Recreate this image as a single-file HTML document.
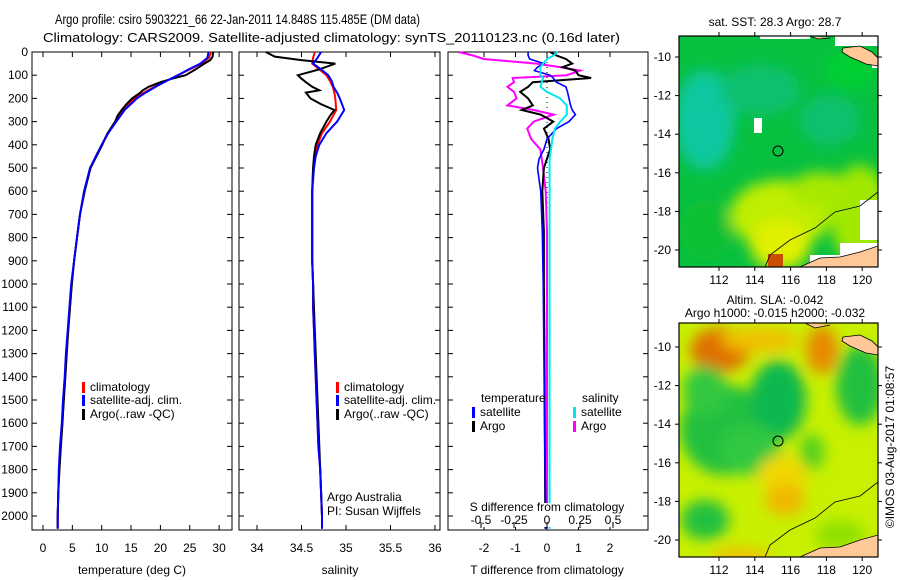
<!DOCTYPE html>
<html><head><meta charset="utf-8">
<style>
html,body{margin:0;padding:0;background:#fff;}
svg{display:block;font-family:"Liberation Sans",sans-serif;}
text{font-size:12px;fill:#000;}
</style></head>
<body>
<svg id="fig" width="900" height="580" viewBox="0 0 900 580">
<defs>
<filter id="blur6" x="-50%" y="-50%" width="200%" height="200%"><feGaussianBlur stdDeviation="7"/></filter>
<clipPath id="clipM1"><rect x="679" y="36" width="199" height="231"/></clipPath>
<clipPath id="clipM2"><rect x="679" y="323" width="199" height="234"/></clipPath>
</defs>
<text x="55" y="24" textLength="365" lengthAdjust="spacingAndGlyphs" style="font-size:14px">Argo profile: csiro 5903221_66 22-Jan-2011 14.848S 115.485E (DM data)</text>
<text x="43" y="42" textLength="577" lengthAdjust="spacingAndGlyphs" style="font-size:13px">Climatology: CARS2009. Satellite-adjusted climatology: synTS_20110123.nc (0.16d later)</text>

<g clip-path="url(#clipM1)">
<rect x="679" y="36" width="199" height="231" fill="#08c040"/>
<g filter="url(#blur6)">
<ellipse cx="705" cy="120" rx="30" ry="50" fill="#10c8a0"/>
<ellipse cx="760" cy="90" rx="40" ry="25" fill="#10c070"/>
<ellipse cx="830" cy="120" rx="30" ry="25" fill="#10c070"/>
<ellipse cx="850" cy="70" rx="25" ry="20" fill="#00d030"/>
<ellipse cx="860" cy="215" rx="30" ry="50" fill="#a0e800"/>
<ellipse cx="780" cy="215" rx="50" ry="35" fill="#c0ee00"/>
<ellipse cx="780" cy="245" rx="30" ry="25" fill="#e0f000"/>
<ellipse cx="820" cy="190" rx="30" ry="18" fill="#a8e800"/>
<ellipse cx="705" cy="230" rx="25" ry="30" fill="#10c030"/>
</g>
<rect x="754" y="118" width="8" height="15" fill="#fff"/>
<rect x="810" y="255" width="70" height="15" fill="#fff"/>
<rect x="840" y="243" width="40" height="12" fill="#fff"/>
<rect x="860" y="200" width="20" height="40" fill="#fff"/>
<rect x="835" y="36" width="45" height="10" fill="#fff"/>
<rect x="760" y="36" width="50" height="3" fill="#fff"/>
<rect x="768" y="254" width="15" height="15" fill="#c85000"/>
<rect x="872" y="58" width="6" height="10" fill="#fff"/>
<path d="M843,48 L860,46 L872,52 L878,58 L878,66 L866,64 L850,57 L842,52 Z" fill="#ffc896" stroke="#000" stroke-width="0.8"/>
<path d="M800,267 L820,258 L840,257 L860,252 L878,246 L878,267 Z" fill="#ffc896" stroke="#000" stroke-width="0.8"/>
<path d="M765,267 L770,255 L790,240 L815,228 L835,212 L860,206 L878,192" fill="none" stroke="#000" stroke-width="0.8"/>
<path d="M810,36 L818,39 L830,38" fill="#ffc896" stroke="#000" stroke-width="0.8"/>
</g>
<circle cx="778" cy="151" r="5" fill="none" stroke="#000"/>
<text x="775" y="26" text-anchor="middle">sat. SST: 28.3 Argo: 28.7</text>

<g clip-path="url(#clipM2)">
<rect x="679" y="323" width="199" height="234" fill="#c8f000"/>
<g filter="url(#blur6)">
<ellipse cx="720" cy="350" rx="30" ry="22" fill="#e07000"/>
<ellipse cx="822" cy="350" rx="16" ry="24" fill="#e88800"/>
<ellipse cx="760" cy="340" rx="40" ry="12" fill="#f0c000"/>
<ellipse cx="725" cy="430" rx="45" ry="45" fill="#20c040"/>
<ellipse cx="705" cy="390" rx="22" ry="25" fill="#30c840"/>
<ellipse cx="778" cy="400" rx="28" ry="40" fill="#10b850"/>
<ellipse cx="750" cy="450" rx="30" ry="25" fill="#30c840"/>
<ellipse cx="860" cy="385" rx="24" ry="40" fill="#20c040"/>
<ellipse cx="705" cy="520" rx="24" ry="20" fill="#20c040"/>
<ellipse cx="812" cy="452" rx="12" ry="18" fill="#50d020"/>
<ellipse cx="783" cy="475" rx="25" ry="20" fill="#f0d800"/>
<ellipse cx="785" cy="500" rx="20" ry="16" fill="#f0b800"/>
<ellipse cx="740" cy="558" rx="30" ry="10" fill="#f0c000"/>
<ellipse cx="840" cy="535" rx="25" ry="15" fill="#90e000"/>
</g>
<path d="M843,337 L860,335 L872,341 L878,347 L878,355 L866,353 L850,346 L842,341 Z" fill="#ffc896" stroke="#000" stroke-width="0.8"/>
<path d="M800,557 L820,548 L840,547 L860,540 L878,535 L878,557 Z" fill="#ffc896" stroke="#000" stroke-width="0.8"/>
<path d="M765,557 L770,545 L790,530 L815,518 L835,502 L860,496 L878,482" fill="none" stroke="#000" stroke-width="0.8"/>
<path d="M805,323 L815,328 L830,325" fill="#ffc896" stroke="#000" stroke-width="0.8"/>
</g>
<circle cx="778" cy="441" r="5" fill="none" stroke="#000"/>
<text x="775" y="304" text-anchor="middle">Altim. SLA: -0.042</text>
<text x="775" y="317" text-anchor="middle">Argo h1000: -0.015 h2000: -0.032</text>
<text transform="translate(894,447) rotate(-90)" text-anchor="middle">©IMOS 03-Aug-2017 01:08:57</text>
</svg>
<script>
const depthTicks = [0,100,200,300,400,500,600,700,800,900,1000,1100,1200,1300,1400,1500,1600,1700,1800,1900,2000];
const tempTicks = [0,5,10,15,20,25,30];
const salTicks = [34,34.5,35,35.5,36];
const tdiffTicks = [-2,-1,0,1,2];
const sdiffTicks = [-0.5,-0.25,0,0.25,0.5];
const sdiffTickLabels = ["-0.5","-0.25","0","0.25","0.5"];
const climDepth = [0,25,50,75,100,125,150,175,200,250,300,350,400,450,500,600,700,800,900,1000,1100,1200,1300,1400,1500,1600,1700,1800,1900,2000,2055];
const climTemp = [28.6,28.3,27,25,23,21,19,17.2,15.6,13.6,12.3,11,10,9,8.1,7,6.3,5.8,5.3,4.9,4.6,4.3,4.0,3.8,3.5,3.3,3.0,2.8,2.6,2.5,2.5];
const satTemp = [28.2,28,26.8,24.8,23,21,19.2,17.5,16,13.9,12.5,11.1,10,9,8,7,6.3,5.8,5.3,4.8,4.5,4.2,3.9,3.7,3.4,3.2,2.9,2.7,2.6,2.5,2.5];
const argoDepth = [0,20,35,50,75,100,115,130,150,165,175,200,225,250,275,300,350,400,450,500,600,700,800,900,1000,1200,1400,1600,1800,1900,2000,2050];
const argoTemp = [29,28.9,28.5,27.5,26,24.3,22,20,18,17,16.6,15.2,14.2,13.4,12.7,12.3,11,10.1,9.1,8.1,7.1,6.3,5.8,5.3,4.9,4.3,3.8,3.3,2.8,2.6,2.5,2.5];
const climSal = [34.65,34.63,34.62,34.7,34.78,34.82,34.85,34.87,34.88,34.89,34.82,34.73,34.68,34.65,34.63,34.62,34.62,34.62,34.62,34.63,34.63,34.64,34.65,34.66,34.67,34.68,34.69,34.71,34.72,34.73,34.73];
const satSal = [34.72,34.68,34.63,34.72,34.8,34.84,34.86,34.9,34.93,34.98,34.9,34.78,34.7,34.66,34.64,34.62,34.62,34.62,34.62,34.63,34.63,34.64,34.65,34.66,34.67,34.68,34.69,34.71,34.72,34.73,34.73];
const argoSal = [34.1,34.2,34.5,34.88,34.7,34.46,34.5,34.55,34.62,34.7,34.55,34.6,34.72,34.87,34.82,34.78,34.71,34.66,34.64,34.63,34.62,34.62,34.62,34.62,34.63,34.65,34.67,34.69,34.71,34.72,34.73,34.73];
const diffDepth = [0,15,30,50,65,80,100,112,130,150,172,200,230,250,270,300,330,375,420,460,500,600,775,1000,1300,1600,1900,2055];
const dTsat = [-0.6,-0.6,-0.55,-0.1,-0.3,-0.4,0.1,0.2,0.3,0.6,0.65,0.7,0.75,0.8,0.9,0.7,0.3,0.0,-0.1,-0.25,-0.3,-0.2,-0.15,-0.12,-0.1,-0.08,-0.05,-0.03];
const dTargo = [0.1,0.3,0.6,0.8,0.5,0.9,1.0,1.4,-0.45,-0.6,-0.85,-0.6,-0.45,-0.8,-0.2,0.2,-0.1,0.05,0.1,0.0,-0.1,-0.15,-0.1,-0.1,-0.08,-0.07,-0.06,-0.05];
const dSsat = [0.08,0.05,0.0,-0.03,-0.05,-0.05,-0.05,-0.03,-0.04,-0.05,0.0,0.1,0.15,0.15,0.15,0.1,0.06,0.04,0.03,0.02,0.02,0.02,0.02,0.02,0.02,0.02,0.02,0.02];
const dSargo = [-0.67,-0.56,-0.48,-0.08,0.1,0.25,0.15,-0.26,-0.25,-0.3,-0.25,-0.23,-0.3,-0.1,0.05,-0.1,-0.15,-0.12,-0.05,-0.04,-0.03,-0.01,0,0,0,0,0,0];
const lonTicks = [112,114,116,118,120];
const latTicks = [-10,-12,-14,-16,-18,-20];

const top0=52, bot0=530, dppm=0.232;
const yD = d => top0 + d*dppm;
const xT = t => 43 + t*5.87;
const xS = s => 257 + (s-34)*89;
const xDT = v => 547 + v*31.5;
const xDS = v => 547 + v*132;
const mLon = l => 719 + (l-112)*17.9;
const mLat1 = l => 57 + (-10-l)*19.3;
const mLat2 = l => 347 + (-10-l)*19.3;

const svg = document.getElementById('fig');
const NS='http://www.w3.org/2000/svg';
function mk(tag, attrs, parent){const e=document.createElementNS(NS,tag);for(const k in attrs)e.setAttribute(k,attrs[k]);(parent||svg).appendChild(e);return e;}
function txt(x,y,s,anchor,parent){const e=mk('text',{x:x,y:y,'text-anchor':anchor||'middle'},parent);e.textContent=s;return e;}
function line(xs,ys,color,w,name){
  const p=xs.map((x,i)=>x.toFixed(1)+','+ys[i].toFixed(1)).join(' ');
  const e=mk('polyline',{points:p,fill:'none',stroke:color,'stroke-width':w,'stroke-linejoin':'miter'});
  
  
  return e;
}
function frame(x0,x1,name){
  const r=mk('rect',{x:x0,y:top0,width:x1-x0,height:bot0-top0,fill:'none',stroke:'#000','stroke-width':1});
  
  
}
function depthTicksOn(x0,x1,labels){
  depthTicks.forEach(d=>{
    const y=yD(d);
    mk('line',{x1:x0,y1:y,x2:x0+5,y2:y,stroke:'#000'});
    mk('line',{x1:x1-5,y1:y,x2:x1,y2:y,stroke:'#000'});
    if(labels){const t=txt(28,y+4,String(d),'end');
      
      }
  });
}
function xTicks(vals,fx,labels,ylab,inner){
  vals.forEach((v,i)=>{
    const x=fx(v);
    if(inner){mk('line',{x1:x,y1:ylab+4,x2:x,y2:ylab-2,stroke:'#000'});}
    else{mk('line',{x1:x,y1:bot0,x2:x,y2:bot0-5,stroke:'#000'});mk('line',{x1:x,y1:top0,x2:x,y2:top0+5,stroke:'#000'});}
    const t=txt(x,ylab,labels[i]);
    
    
  });
}
function legendItem(xb,y,color,label){
  mk('rect',{x:xb,y:y-9,width:3,height:11,fill:color});
  const t=txt(xb+8,y,label,'start');
  
  
}

frame(32,232,'temperature-panel');
depthTicksOn(32,232,true);
xTicks(tempTicks,xT,tempTicks.map(String),552,false);
line(climTemp.map(xT),climDepth.map(yD),'#ff0000',2,'temp-climatology-line');
line(argoTemp.map(xT),argoDepth.map(yD),'#000000',2,'temp-argo-line');
line(satTemp.map(xT),climDepth.map(yD),'#0000ff',2,'temp-satellite-line');
txt(132,574,'temperature (deg C)');
legendItem(82,391,'#ff0000','climatology');
legendItem(82,404,'#0000ff','satellite-adj. clim.');
legendItem(82,418,'#000000','Argo(..raw -QC)');

frame(239,440,'salinity-panel');
depthTicksOn(239,440,false);
xTicks(salTicks,xS,salTicks.map(String),552,false);
line(climSal.map(xS),climDepth.map(yD),'#ff0000',2,'sal-climatology-line');
line(argoSal.map(xS),argoDepth.map(yD),'#000000',2,'sal-argo-line');
line(satSal.map(xS),climDepth.map(yD),'#0000ff',2,'sal-satellite-line');
txt(340,574,'salinity');
legendItem(336,391,'#ff0000','climatology');
legendItem(336,404,'#0000ff','satellite-adj. clim.');
legendItem(336,418,'#000000','Argo(..raw -QC)');
txt(327,501,'Argo Australia','start');
txt(327,515,'PI: Susan Wijffels','start');

frame(448,648,'difference-panel');
depthTicksOn(448,648,false);
xTicks(tdiffTicks,xDT,tdiffTicks.map(String),552,false);
mk('line',{x1:547,y1:top0,x2:547,y2:yD(800),stroke:'#000','stroke-dasharray':'1,4'});
line(dSargo.map(xDS),diffDepth.map(yD),'#ff00ff',2,'sdiff-argo-line');
line(dTargo.map(xDT),diffDepth.map(yD),'#000000',2,'tdiff-argo-line');
line(dTsat.map(xDT),diffDepth.map(yD),'#0000ff',1.6,'tdiff-satellite-line');
line(dSsat.map(xDS),diffDepth.map(yD),'#00e8f0',2,'sdiff-satellite-line');
mk('rect',{x:460,y:503,width:175,height:24,fill:'#fff'});
xTicks(sdiffTicks,xDS,sdiffTickLabels,524,true);
txt(547,511,'S difference from climatology');
txt(547,574,'T difference from climatology');
txt(481,402,'temperature','start');
txt(582,402,'salinity','start');
legendItem(472,416,'#0000ff','satellite');
legendItem(472,430,'#000000','Argo');
legendItem(573,416,'#00e8f0','satellite');
legendItem(573,430,'#ff00ff','Argo');

function mapAxes(y0,y1,fy,name){
  const r=mk('rect',{x:679,y:y0,width:199,height:y1-y0,fill:'none',stroke:'#000','stroke-width':1.2});
  
  
  lonTicks.forEach(l=>{const x=mLon(l);
    mk('line',{x1:x,y1:y1,x2:x,y2:y1+4,stroke:'#000'});mk('line',{x1:x,y1:y0,x2:x,y2:y0-4,stroke:'#000'});
    const t=txt(x,y1+17,String(l));
    
    });
  latTicks.forEach(l=>{const y=fy(l);
    mk('line',{x1:679,y1:y,x2:675,y2:y,stroke:'#000'});mk('line',{x1:878,y1:y,x2:882,y2:y,stroke:'#000'});
    const t=txt(671,y+4,String(l),'end');
    
    });
}
mapAxes(36,267,mLat1,'sst-map-frame');
mapAxes(323,557,mLat2,'sla-map-frame');
</script>
</body></html>
